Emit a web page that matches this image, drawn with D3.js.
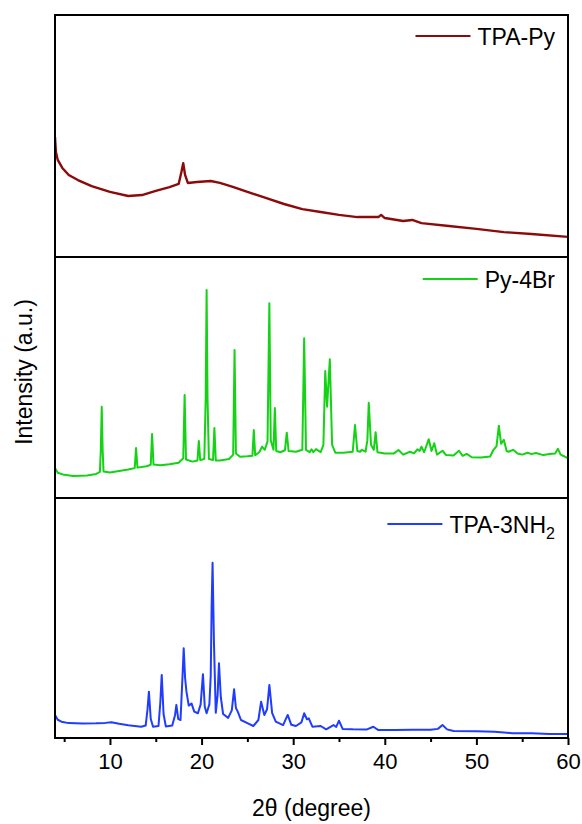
<!DOCTYPE html>
<html>
<head>
<meta charset="utf-8">
<script src="https://cdn.jsdelivr.net/npm/d3@7"></script>
<style>
  body { margin: 0; background: #fff; }
  text { font-family: Arial, "Liberation Sans", sans-serif; fill: #000; }
</style>
</head>
<body>
<svg id="chart" width="582" height="824"></svg>
<script>
// XRD patterns, 2theta (degree) vs intensity (a.u., 0-100 inside each panel)
const tpaPy = [
  [4.0, 49.6], [4.1, 43.4], [4.3, 40.1], [4.8, 36.8], [5.5, 33.9], [6.5, 31.8],
  [8.0, 29.3], [10.0, 26.9], [12.0, 25.2], [13.5, 25.6], [15.0, 27.3], [16.5, 28.9],
  [17.5, 30.2], [17.8, 35.1], [18.0, 38.8], [18.2, 33.9], [18.5, 30.6], [19.5, 31.0],
  [21.0, 31.4], [22.0, 30.6], [23.5, 28.9], [25.0, 26.9], [27.0, 24.4], [29.0, 21.9],
  [31.0, 19.8], [33.0, 18.6], [35.0, 17.4], [37.0, 16.5], [39.3, 16.5], [39.6, 17.4],
  [40.0, 16.1], [42.0, 14.9], [43.0, 15.3], [44.0, 14.0], [47.0, 12.8], [50.0, 11.6],
  [53.0, 10.3], [56.0, 9.5], [60.0, 8.3]
];

const py4Br = [
  [4.0, 12.4], [4.3, 10.5], [5.0, 9.6], [6.0, 9.1], [7.5, 9.3], [8.5, 10.0], [8.9, 10.8],
  [9.0, 20.0], [9.1, 37.9], [9.2, 20.0], [9.3, 11.0], [10.0, 10.6], [11.0, 11.2],
  [12.0, 11.8], [12.7, 12.4], [12.85, 20.7], [13.0, 12.6], [14.0, 13.2], [14.45, 13.8],
  [14.6, 26.6], [14.75, 13.9], [15.5, 13.6], [16.5, 14.0], [17.5, 14.6], [18.0, 16.5],
  [18.15, 42.7], [18.3, 16.0], [19.0, 15.1], [19.55, 15.6], [19.7, 23.7], [19.85, 15.8],
  [20.3, 16.2], [20.45, 41.5], [20.55, 86.3], [20.65, 41.5], [20.8, 16.2], [21.25, 15.8],
  [21.4, 29.0], [21.55, 15.6], [22.0, 15.6], [23.0, 16.2], [23.45, 18.0], [23.6, 61.4],
  [23.75, 18.5], [24.2, 17.1], [25.0, 17.3], [25.55, 17.5], [25.7, 28.2], [25.85, 17.8],
  [26.3, 19.0], [26.6, 21.3], [26.9, 20.0], [27.2, 23.5], [27.4, 80.8], [27.55, 24.0],
  [27.85, 20.0], [28.0, 37.3], [28.15, 19.5], [28.6, 19.0], [29.1, 19.8], [29.3, 27.1],
  [29.5, 19.5], [30.3, 19.2], [31.0, 20.0], [31.2, 66.3], [31.4, 20.0], [31.8, 19.0],
  [32.0, 20.2], [32.2, 19.0], [32.5, 20.3], [33.0, 19.0], [33.3, 22.0], [33.5, 52.7],
  [33.7, 37.9], [34.0, 57.6], [34.25, 22.0], [34.6, 18.8], [35.5, 18.8], [36.5, 19.2],
  [36.75, 30.3], [37.0, 19.5], [37.3, 19.2], [37.5, 20.0], [37.9, 19.2], [38.1, 24.0],
  [38.25, 39.5], [38.5, 22.0], [38.8, 20.0], [39.0, 27.3], [39.2, 19.0], [40.0, 18.5],
  [41.0, 18.5], [41.5, 19.9], [42.0, 18.0], [42.75, 19.2], [43.2, 18.5], [43.55, 20.2],
  [43.8, 19.5], [44.0, 21.3], [44.3, 19.0], [44.8, 24.4], [45.1, 19.5], [45.4, 22.7],
  [45.7, 18.0], [46.3, 19.6], [46.7, 17.8], [47.5, 17.6], [48.1, 19.6], [48.5, 17.5],
  [48.95, 18.3], [49.5, 16.9], [50.5, 16.8], [51.5, 17.2], [51.85, 19.9], [52.2, 21.5],
  [52.45, 30.0], [52.7, 22.5], [53.0, 24.1], [53.3, 19.5], [53.5, 19.2], [54.0, 20.0],
  [54.5, 18.5], [55.0, 18.0], [55.6, 18.8], [56.0, 18.2], [56.5, 18.7], [57.3, 17.8],
  [58.0, 18.3], [58.6, 18.5], [58.9, 20.4], [59.2, 18.0], [60.0, 16.5]
];

const tpa3NH2 = [
  [4.0, 9.6], [4.3, 7.6], [4.7, 6.8], [5.5, 6.2], [7.0, 6.0], [8.5, 6.1], [9.5, 6.3],
  [10.15, 6.6], [11.0, 5.9], [12.0, 5.3], [13.4, 4.7], [13.9, 5.2], [14.1, 12.0],
  [14.25, 19.3], [14.45, 8.0], [14.7, 4.7], [15.3, 5.0], [15.5, 15.0], [15.65, 26.3],
  [15.85, 10.0], [16.1, 4.8], [16.8, 5.2], [17.1, 9.5], [17.25, 13.8], [17.45, 8.0],
  [17.7, 7.5], [17.9, 24.0], [18.05, 37.4], [18.2, 25.0], [18.35, 19.3], [18.6, 13.5],
  [18.9, 14.4], [19.2, 11.0], [19.6, 10.3], [19.9, 14.0], [20.15, 26.6], [20.35, 13.0],
  [20.55, 10.3], [20.85, 14.0], [21.0, 26.0], [21.1, 55.0], [21.2, 73.0], [21.35, 40.0],
  [21.55, 10.5], [21.75, 18.0], [21.9, 31.1], [22.1, 17.0], [22.35, 10.0], [22.9, 8.4],
  [23.3, 11.5], [23.55, 20.3], [23.75, 12.5], [23.95, 11.0], [24.3, 7.5], [25.0, 6.2],
  [25.65, 5.0], [26.2, 7.5], [26.5, 15.1], [26.85, 9.6], [27.15, 12.0], [27.4, 22.1],
  [27.7, 10.5], [28.1, 6.8], [28.9, 5.4], [29.4, 9.6], [29.8, 5.5], [30.3, 5.0],
  [30.9, 6.5], [31.2, 10.3], [31.5, 7.8], [31.7, 8.2], [32.1, 4.7], [33.0, 5.0],
  [33.6, 3.6], [34.4, 5.4], [34.7, 4.6], [35.0, 7.2], [35.4, 3.8], [36.5, 3.6],
  [38.0, 3.5], [38.75, 4.7], [39.3, 3.3], [41.0, 3.3], [43.0, 3.4], [45.0, 3.4],
  [45.8, 3.8], [46.3, 5.4], [46.8, 3.6], [47.5, 2.9], [50.0, 2.8], [52.0, 2.6],
  [53.9, 2.0], [56.0, 2.0], [58.0, 1.7], [60.0, 1.7]
];

const seriesNames = ["TPA-Py", "Py-4Br", "TPA-3NH2"];
const seriesColors = ["#8c0a0a", "#14d214", "#1f3cff"];
const xTicks = [10, 20, 30, 40, 50, 60];
const xMinorTicks = [5, 15, 25, 35, 45, 55];

const svg = d3.select("#chart");
const left = 55, right = 568;
const panelTops = [15, 257, 498];
const panelBottoms = [257, 498, 738];

const x = d3.scaleLinear().domain([4, 60]).range([left, right]);

const panels = [tpaPy, py4Br, tpa3NH2];

panels.forEach((data, i) => {
  const y = d3.scaleLinear().domain([0, 100]).range([panelBottoms[i], panelTops[i]]);
  const line = d3.line().x(d => x(d[0])).y(d => y(d[1]));

  svg.append("clipPath").attr("id", "clip" + i)
    .append("rect")
    .attr("x", left).attr("y", panelTops[i])
    .attr("width", right - left).attr("height", panelBottoms[i] - panelTops[i]);

  svg.append("path")
    .datum(data)
    .attr("clip-path", "url(#clip" + i + ")")
    .attr("fill", "none")
    .attr("stroke", seriesColors[i])
    .attr("stroke-width", i === 0 ? 2.4 : 2)
    .attr("stroke-linejoin", "round")
    .attr("d", line);

  svg.append("rect")
    .attr("x", left).attr("y", panelTops[i])
    .attr("width", right - left).attr("height", panelBottoms[i] - panelTops[i])
    .attr("fill", "none")
    .attr("stroke", "#000")
    .attr("stroke-width", 2);

  // legend: line sample + label, right aligned
  const ly = [36, 279, 524][i];
  const label = svg.append("text")
    .attr("x", 555).attr("y", ly + 9)
    .attr("text-anchor", "end")
    .style("font-size", "23px");
  if (i === 2) {
    label.append("tspan").text("TPA-3NH");
    label.append("tspan").attr("dy", 6).style("font-size", "16px").text("2");
  } else {
    label.text(seriesNames[i]);
  }
  const tw = label.node().getComputedTextLength();
  const tx = 555 - tw;
  svg.append("line")
    .attr("x1", tx - 62).attr("x2", tx - 7)
    .attr("y1", ly).attr("y2", ly)
    .attr("stroke", seriesColors[i])
    .attr("stroke-width", 2);
});

// bottom axis
const axis = svg.append("g").attr("transform", "translate(0," + panelBottoms[2] + ")");
axis.call(d3.axisBottom(x).tickValues(xTicks).tickSize(7).tickPadding(8).tickFormat(d3.format("d")));
axis.append("g").call(d3.axisBottom(x).tickValues(xMinorTicks).tickSize(4).tickFormat(""));
axis.selectAll(".domain").remove();
axis.selectAll("line").attr("stroke", "#000").attr("stroke-width", 2);
axis.selectAll("text").style("font-size", "22px").attr("fill", "#000")
  .style("font-family", "Arial, 'Liberation Sans', sans-serif");

svg.append("text")
  .attr("x", (left + right) / 2).attr("y", 816)
  .attr("text-anchor", "middle")
  .style("font-size", "23px")
  .text("2θ (degree)");

svg.append("text")
  .attr("transform", "translate(32," + 372 + ") rotate(-90)")
  .attr("text-anchor", "middle")
  .style("font-size", "23px")
  .text("Intensity (a.u.)");
</script>
</body>
</html>
